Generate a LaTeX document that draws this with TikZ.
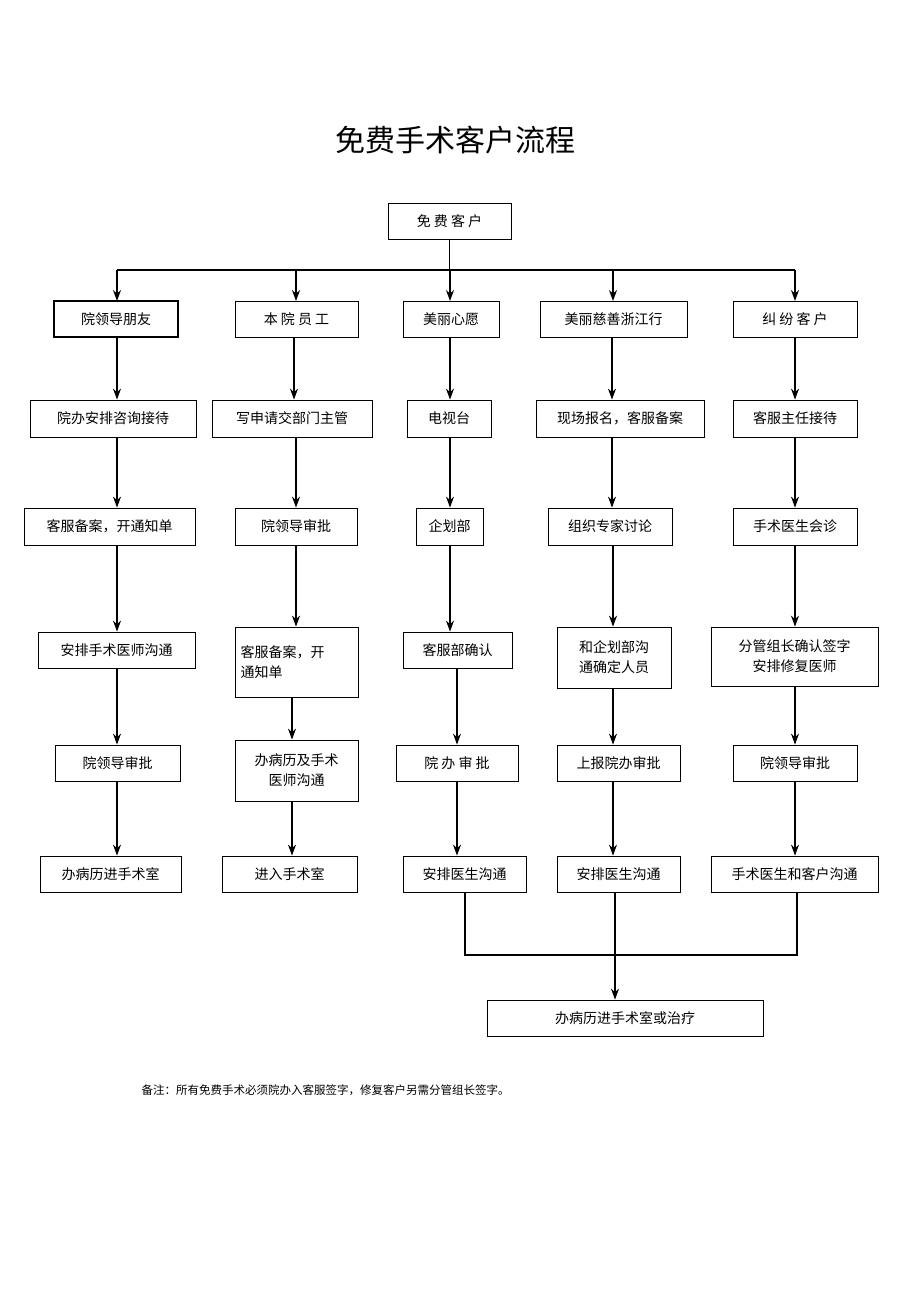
\documentclass[tikz,border=0pt]{standalone}
\usepackage{fontspec}
\setmainfont{Noto Sans CJK SC}
\usetikzlibrary{arrows.meta}
\begin{document}
\begin{tikzpicture}[x=1pt,y=-1pt,
  box/.style={draw,line width=0.8pt,inner sep=2pt,font=\fontsize{14}{20}\selectfont,align=center},
  arr/.style={line width=1.3pt,-{Stealth[length=11pt,width=8pt]}},
  ln/.style={line width=1.3pt}]
\useasboundingbox (0,0) rectangle (920,1301);
\newcommand{\bx}[6]{\node[box,minimum width=#3pt,minimum height=#4pt] (#1) at (#2) {#6};}
\node[font=\fontsize{30}{34}\selectfont] (title) at (455,140) {免费手术客户流程};
\bx{top}{449.5,221}{123}{36}{}{免\ 费\ 客\ 户}
% row1
\node[box,line width=1.4pt,minimum width=124pt,minimum height=36pt] (a1) at (116,319) {院领导朋友};
\bx{b1}{296.5,319}{123}{36}{}{本\ 院\ 员\ 工}
\bx{c1}{451,319}{96}{36}{}{美丽心愿}
\bx{d1}{613.5,319}{147}{36}{}{美丽慈善浙江行}
\bx{e1}{795,319}{124}{36}{}{纠\ 纷\ 客\ 户}
% row2
\bx{a2}{113,418.5}{166}{37}{}{院办安排咨询接待}
\bx{b2}{292,418.5}{160}{37}{}{写申请交部门主管}
\bx{c2}{449,418.5}{84}{37}{}{电视台}
\bx{d2}{620,418.5}{168}{37}{}{现场报名，客服备案}
\bx{e2}{795,418.5}{124}{37}{}{客服主任接待}
% row3
\bx{a3}{109.5,526.5}{171}{37}{}{客服备案，开通知单}
\bx{b3}{296,526.5}{122}{37}{}{院领导审批}
\bx{c3}{449.5,526.5}{67}{37}{}{企划部}
\bx{d3}{610,526.5}{124}{37}{}{组织专家讨论}
\bx{e3}{795,526.5}{124}{37}{}{手术医生会诊}
% row4
\bx{a4}{116.5,650}{157}{36}{}{安排手术医师沟通}
\node[box,minimum width=123pt,minimum height=70pt,text width=112pt,align=left] (b4) at (296.5,662) {客服备案，开\\通知单};
\bx{c4}{457.5,650}{109}{36}{}{客服部确认}
\bx{d4}{614,657.5}{114}{61}{}{和企划部沟\\通确定人员}
\bx{e4}{794.5,656.5}{167}{59}{}{分管组长确认签字\\安排修复医师}
% row5
\bx{a5}{117.5,763}{125}{36}{}{院领导审批}
\bx{b5}{296.5,770.5}{123}{61}{}{办病历及手术\\医师沟通}
\bx{c5}{457,763}{122}{36}{}{院\ 办\ 审\ 批}
\bx{d5}{618.5,763}{123}{36}{}{上报院办审批}
\bx{e5}{795,763}{124}{36}{}{院领导审批}
% row6
\bx{a6}{110.5,874}{141}{36}{}{办病历进手术室}
\bx{b6}{289.5,874}{135}{36}{}{进入手术室}
\bx{c6}{464.5,874}{123}{36}{}{安排医生沟通}
\bx{d6}{618.5,874}{123}{36}{}{安排医生沟通}
\bx{e6}{794.5,874}{167}{36}{}{手术医生和客户沟通}
\bx{fin}{625,1018}{276}{36}{}{办病历进手术室或治疗}
\node[anchor=west,font=\fontsize{11.5}{14}\selectfont] (note) at (138,1090) {备注：所有免费手术必须院办入客服签字，修复客户另需分管组长签字。};
% top distribution
\coordinate (hL) at (117,270);
\coordinate (hR) at (795,270);
\draw[ln] (top.south) -- (top.south |- hL);
\draw[ln] (hL) -- (hR);
\foreach \n/\x in {a1/117,b1/296,c1/450,d1/613,e1/795}
  \draw[arr] (\x,270) -- (\x,301);
% column arrows
\foreach \p/\q/\x in {a1/a2/117,a2/a3/117,a3/a4/117,a4/a5/117,a5/a6/117,
  b1/b2/294,b2/b3/296,b3/b4/296,b4/b5/292,b5/b6/292,
  c1/c2/450,c2/c3/450,c3/c4/450,c4/c5/457,c5/c6/457,
  d1/d2/612,d2/d3/612,d3/d4/613,d4/d5/613,d5/d6/613,
  e1/e2/795,e2/e3/795,e3/e4/795,e4/e5/795,e5/e6/795}
  \draw[arr] (\p.south -| \x,0) -- (\q.north -| \x,0);
% merge
\coordinate (m3) at (465,955);
\coordinate (m5) at (797,955);
\coordinate (m4) at (615,955);
\draw[ln] (c6.south -| m3) -- (m3) -- (m5) -- (e6.south -| m5);
\draw[ln] (d6.south -| m4) -- (m4);
\draw[arr] (m4) -- (fin.north -| m4);
\end{tikzpicture}
\end{document}
